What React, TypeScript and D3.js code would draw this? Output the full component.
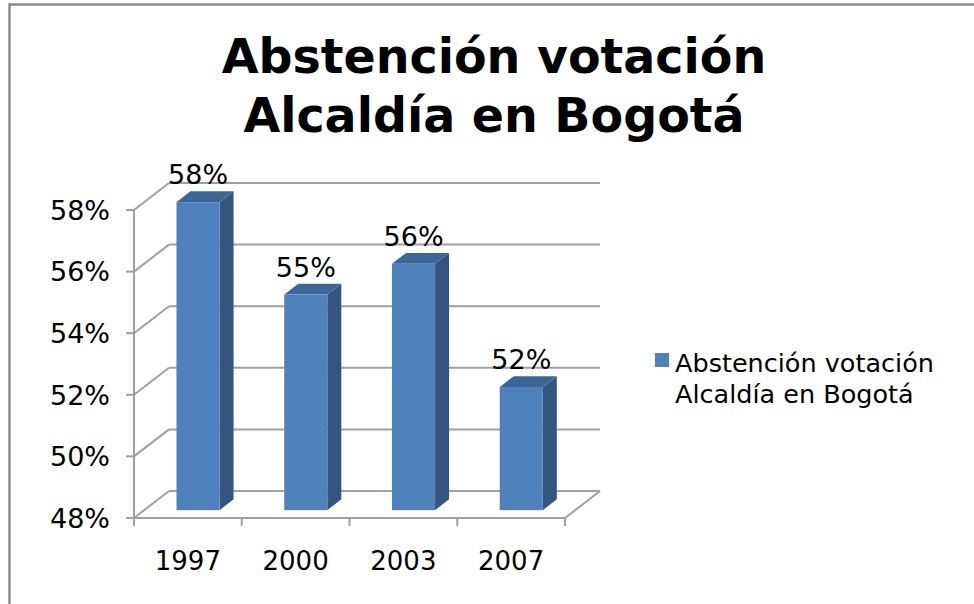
import * as d3 from "d3";

const years = ["1997", "2000", "2003", "2007"];
const abstention = [58, 55, 56, 52];
const yTicks = [48, 50, 52, 54, 56, 58];
const titleLines = ["Abstención votación", "Alcaldía en Bogotá"];
const legendLines = ["Abstención votación", "Alcaldía en Bogotá"];

const W = 974;
const H = 604;
const FONT = "'DejaVu Sans', Verdana, sans-serif";

export default function App() {
  // front plane of the 3D box
  const x = d3.scaleBand<string>().domain(years).range([134, 565]).padding(0);
  const y = d3.scaleLinear().domain([48, 58]).range([518, 210]);

  // depth of the box (back wall offset)
  const depth = { dx: 35, dy: -27 };
  const barFront = 0.29;
  const barBack = 0.69;
  const barW = x.bandwidth() * 0.4;

  const grid = "#a0a0a0";
  const front = "#4f81bd";
  const side = "#33557f";
  const top = "#3d6698";

  const fx = depth.dx * barFront;
  const fy = depth.dy * barFront;
  const bx = depth.dx * barBack;
  const by = depth.dy * barBack;

  return (
    <svg
      width={W}
      height={H}
      style={{ position: "absolute", left: 0, top: 0, display: "block" }}
      fontFamily={FONT}
    >
      <rect x={0} y={0} width={W} height={H} fill="#fff" />
      <rect x={9.5} y={4.5} width={W + 20} height={H + 20} fill="none" stroke="#8c8c8c" strokeWidth={2.5} />

      {/* title */}
      {titleLines.map((t, i) => (
        <text key={t} x={494} y={73 + i * 59} textAnchor="middle" fontSize={47.5} fontWeight="bold" fill="#000">
          {t}
        </text>
      ))}

      {/* side wall diagonals and back wall gridlines */}
      {yTicks.map((v) => {
        const y0 = y(v);
        return (
          <g key={v} stroke={grid} strokeWidth={2} fill="none">
            <line x1={134} y1={y0} x2={134 + depth.dx} y2={y0 + depth.dy} />
            <line x1={134 + depth.dx} y1={y0 + depth.dy} x2={565 + depth.dx} y2={y0 + depth.dy} />
          </g>
        );
      })}

      {/* floor */}
      <g stroke={grid} strokeWidth={2} fill="none">
        <line x1={565} y1={y(48)} x2={565 + depth.dx} y2={y(48) + depth.dy} />
        <line x1={134} y1={y(48)} x2={565} y2={y(48)} />
        <line x1={134} y1={y(58)} x2={134} y2={y(48)} />
        {yTicks.map((v) => (
          <line key={v} x1={126} y1={y(v)} x2={134} y2={y(v)} />
        ))}
        {[...years.map((c) => x(c)!), 565].map((px, i) => (
          <line key={i} x1={px} y1={y(48)} x2={px} y2={y(48) + 8} />
        ))}
      </g>

      {/* y tick labels */}
      {yTicks.map((v) => (
        <text key={v} x={110} y={y(v)} dy="0.36em" textAnchor="end" fontSize={27} fill="#000">
          {v}%
        </text>
      ))}

      {/* x labels */}
      {years.map((c) => (
        <text key={c} x={x(c)! + x.bandwidth() / 2} y={570} textAnchor="middle" fontSize={26} fill="#000">
          {c}
        </text>
      ))}

      {/* bars */}
      {years.map((c, i) => {
        const v = abstention[i];
        const x0 = x(c)! + (x.bandwidth() - barW) / 2 + fx;
        const x1 = x0 + barW;
        const yb = y(48) + fy;
        const yt = y(v) + fy;
        const ddx = bx - fx;
        const ddy = by - fy;
        return (
          <g key={c}>
            <polygon
              points={`${x1},${yt} ${x1 + ddx},${yt + ddy} ${x1 + ddx},${yb + ddy} ${x1},${yb}`}
              fill={side}
            />
            <polygon
              points={`${x0},${yt} ${x0 + ddx},${yt + ddy} ${x1 + ddx},${yt + ddy} ${x1},${yt}`}
              fill={top}
            />
            <rect x={x0} y={yt} width={barW} height={yb - yt} fill={front} />
            <text x={x0 + barW / 2} y={yt - 18} textAnchor="middle" fontSize={27} fill="#000">
              {v}%
            </text>
          </g>
        );
      })}

      {/* legend */}
      <rect x={655} y={353} width={14} height={14} fill={front} />
      {legendLines.map((t, i) => (
        <text key={t} x={675} y={372 + i * 31} fontSize={25.5} fill="#000">
          {t}
        </text>
      ))}
    </svg>
  );
}
